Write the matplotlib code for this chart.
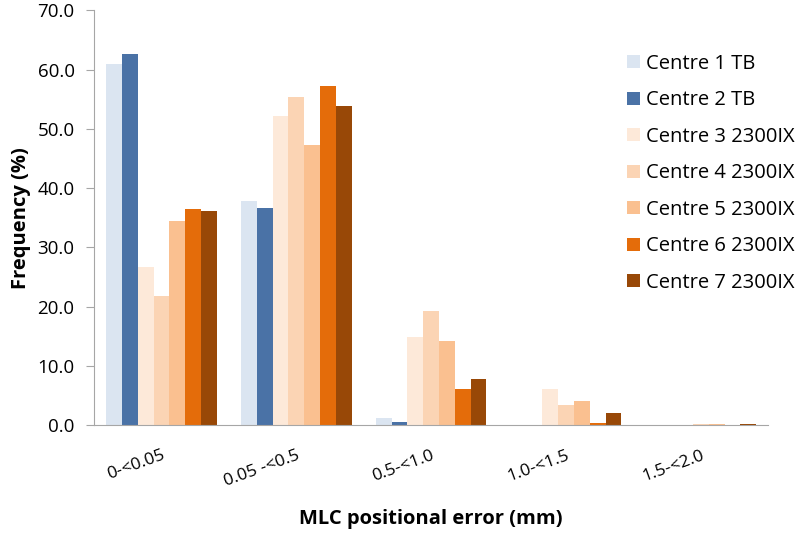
import numpy as np
import matplotlib
matplotlib.use("Agg")
import matplotlib.pyplot as plt

plt.rcParams['font.family'] = ['Open Sans', 'DejaVu Sans']

categories = ["0-<0.05", "0.05 -<0.5", "0.5-<1.0", "1.0-<1.5", "1.5-<2.0"]
series = ["Centre 1 TB", "Centre 2 TB", "Centre 3 2300IX", "Centre 4 2300IX",
          "Centre 5 2300IX", "Centre 6 2300IX", "Centre 7 2300IX"]
c1 = [61.0, 37.8, 1.2, 0.0, 0.0]
c2 = [62.7, 36.6, 0.55, 0.0, 0.0]
c3 = [26.7, 52.2, 14.8, 6.1, 0.05]
c4 = [21.8, 55.3, 19.3, 3.4, 0.1]
c5 = [34.4, 47.2, 14.1, 4.0, 0.25]
c6 = [36.4, 57.2, 6.0, 0.4, 0.02]
c7 = [36.1, 53.9, 7.8, 2.0, 0.2]
values = [c1, c2, c3, c4, c5, c6, c7]
colors = ["#dbe5f1", "#4a72a6", "#fde9d9", "#fbd4b4", "#fac090", "#e46c0a", "#984807"]

fig = plt.figure(figsize=(7.97, 5.35), dpi=100)
ax = fig.add_axes([0.118, 0.2056, 0.846, 0.775])

x = np.arange(len(categories))
n = len(series)
w = 0.82 / n
for i, (name, vals) in enumerate(zip(series, values)):
    ax.bar(x - 0.41 + w * (i + 0.5), vals, width=w, color=colors[i], label=name)

ax.set_xlim(-0.5, len(categories) - 0.5)
ax.set_ylim(0, 70)
yt = np.arange(0, 71, 10)
ax.set_yticks(yt)
ax.set_yticklabels([f"{v:.1f}" for v in yt], fontsize=13.5)
ax.set_xticks(x)
ax.set_xticklabels(categories, fontsize=12.5, rotation=20, ha="right",
                   rotation_mode="anchor")
ax.tick_params(axis='x', length=0, pad=16)
ax.tick_params(axis='y', length=6, color="#a6a6a6", pad=8)

for s in ["top", "right"]:
    ax.spines[s].set_visible(False)
for s in ["left", "bottom"]:
    ax.spines[s].set_color("#a6a6a6")

ax.set_ylabel("Frequency (%)", fontsize=14.5, fontweight="bold", labelpad=5)
ax.set_xlabel("MLC positional error (mm)", fontsize=14.5, fontweight="bold", labelpad=14)

ax.legend(loc="upper left", bbox_to_anchor=(0.791, 0.895), frameon=False, fontsize=14.5,
          borderpad=0, borderaxespad=0,
          handlelength=0.62, handleheight=0.62, handletextpad=0.3, labelspacing=0.82)

fig.savefig("out.png", dpi=100)
